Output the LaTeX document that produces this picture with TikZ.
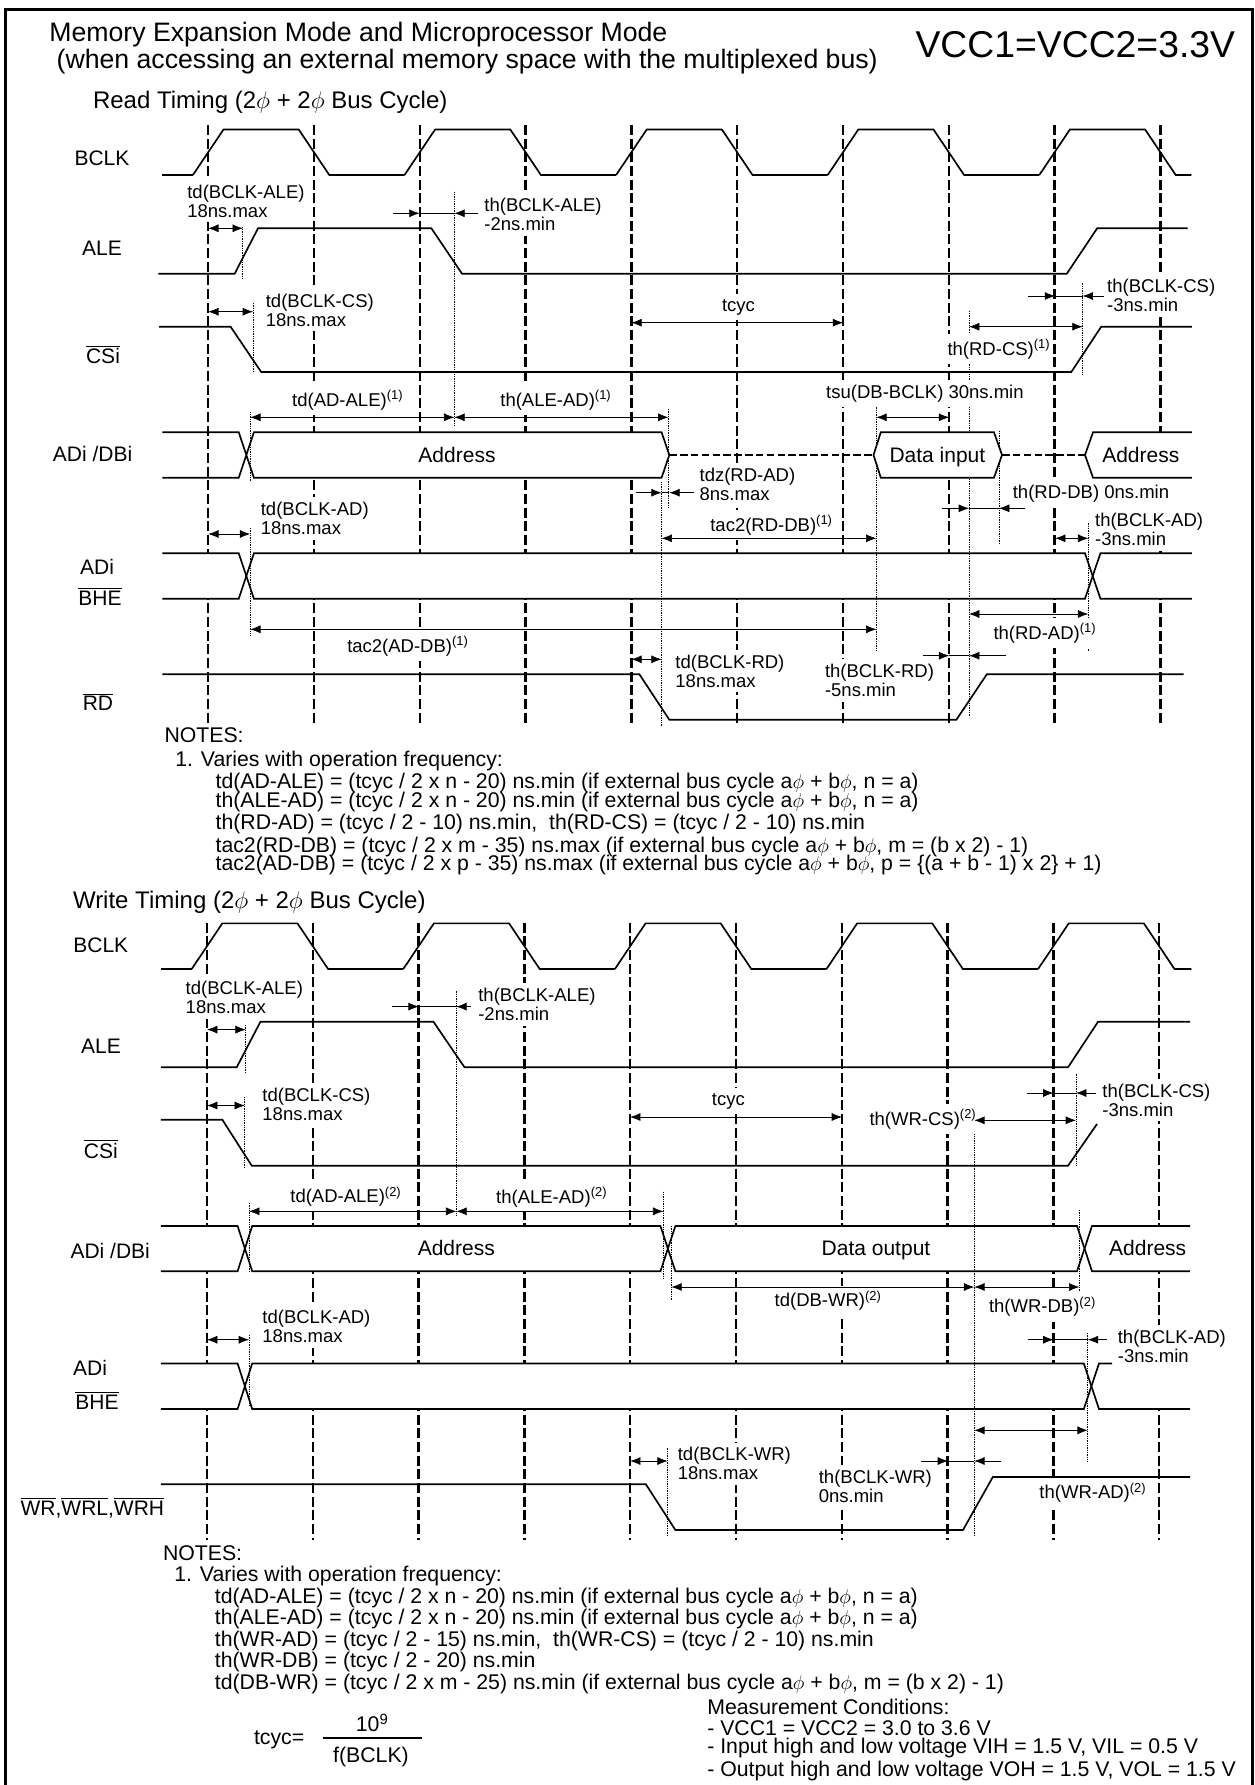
\documentclass[tikz,border=0pt]{standalone}
\usepackage{fontspec}
\setmainfont{Liberation Sans}
\usetikzlibrary{arrows.meta}
\newcommand{\ovl}[1]{$\overline{\mbox{#1}}$}
\newcommand{\ph}{$\phi$}
% tip pair pointing inwards at one level
\newcommand{\inpair}[5]{
	\draw[dimin] (#2,#1) -- (#3,#1);
	\draw[dimin] (#5,#1) -- (#4,#1);
	\draw[dimline] (#3,#1) -- (#4,#1);
}
% clock trace: first grid x, high, low
\newcommand{\clktrace}[3]{
	\draw[wave] ({#1-45.8},#3) -- ({#1-15.3},#3);
	\foreach \k in {0,2,4,6,8}
		\draw[wave] ({#1+105.8*\k-15.3},#3) -- ({#1+105.8*\k+15.3},#2) -- ({#1+105.8*(\k+1)-15.3},#2) -- ({#1+105.8*(\k+1)+15.3},#3) -- ({min(#1+105.8*(\k+2)-15.3,1191.3)},#3);
}
\tikzset{
	dashgrid/.style={line width=1.5pt,dash pattern=on 6pt off 2.2pt},
	wave/.style={line width=1pt},
	busgap/.style={line width=1.3pt,dash pattern=on 4.5pt off 2pt},
	guide/.style={line width=.5pt,dash pattern=on .8pt off .6pt},
	dimline/.style={line width=.4pt},
	dimin/.style={dimline,-{Latex[length=6.2pt,width=4.8pt]}},
	dimboth/.style={dimline,{Latex[length=6.2pt,width=4.8pt]}-{Latex[length=6.2pt,width=4.8pt]}},
	lab/.style={fill=white,inner xsep=1.5pt,inner ysep=3pt,align=left,font=\fontsize{11.1}{11.4}\selectfont},
	labw/.style={lab,anchor=west},
	signame/.style={inner sep=0pt,font=\fontsize{12.6}{14}\selectfont},
	boxtext/.style={inner sep=0pt,text height=9pt,text depth=0pt,font=\fontsize{12.6}{14}\selectfont},
	note/.style={inner sep=0pt,anchor=west,font=\fontsize{12.75}{14}\selectfont},
}
\begin{document}
\begin{tikzpicture}[x=.6pt,y=-.6pt]
	\useasboundingbox (0,0) rectangle (1254,1785);
	\draw[line width=1.6pt] (5.3,1785) -- (5.3,9.3) -- (1252.5,9.3) -- (1252.5,1785);

	\node[inner sep=0pt,anchor=west,font=\fontsize{16}{18}\selectfont] (title1) at (49,35) {Memory Expansion Mode and Microprocessor Mode};
	\node[inner sep=0pt,anchor=west,font=\fontsize{16}{18}\selectfont] (title2) at (56.3,62) {(when accessing an external memory space with the multiplexed bus)};
	\node[inner sep=0pt,anchor=west,font=\fontsize{22.4}{24}\selectfont] (vcc) at (915.2,45) {VCC1=VCC2=3.3V};
	\node[inner sep=0pt,anchor=west,font=\fontsize{14.4}{16}\selectfont] (readtitle) at (92.7,102) {Read Timing (2\ph{} + 2\ph{} Bus Cycle)};

	% read timing
	\foreach \k in {0,...,9}
		\draw[dashgrid] ({208.2+105.8*\k},125) -- ({208.2+105.8*\k},723);
	\fill[white] (162.4,553.3) -- (1192,553.3) -- (1192,598.7) -- (162.4,598.7) -- cycle;
	\fill[white] (246.3,455) -- (253.9,432.3) -- (661.6,432.3) -- (669.3,455) -- (661.6,477.7) -- (253.9,477.7) -- cycle;

	\draw[guide] (242.9,226.7) -- (242.9,278.3);
	\draw[guide] (454.3,191.7) -- (454.3,426.7);
	\draw[guide] (253,303) -- (253,373);
	\draw[guide] (250.2,411.7) -- (250.2,481.7);
	\draw[guide] (250.2,528) -- (250.2,636);
	\draw[guide] (668.5,409) -- (668.5,508.3);
	\draw[guide] (1082.6,283.3) -- (1082.6,375);
	\draw[guide] (969,310.7) -- (969,716.7);
	\draw[guide] (876.4,407.3) -- (876.4,650);
	\draw[guide] (999,430.7) -- (999,543.3);
	\draw[guide] (661.6,481.7) -- (661.6,726.7);
	\draw[guide] (1088.3,523.3) -- (1088.3,650.7);

	\fill[white] (873.5,455) -- (880.8,432.3) -- (994,432.3) -- (1002,455) -- (994,477.7) -- (880.8,477.7) -- cycle;
	\fill[white] (1085,455) -- (1093,432.3) -- (1192,432.3) -- (1192,477.7) -- (1093,477.7) -- cycle;

	\clktrace{208.2}{129.5}{175}
	\draw[wave] (158.4,273.7) -- (234.7,273.7) -- (258,228.3) -- (431.4,228.3) -- (462,273.7) -- (1066.8,273.7) -- (1097.2,228.3) -- (1187.7,228.3);
	\draw[wave] (159.2,326.7) -- (230.6,326.7) -- (261.2,372) -- (1071.3,372) -- (1101.2,326.7) -- (1191.8,326.7);
	\draw[wave] (162.4,432.3) -- (238.8,432.3) -- (253.9,477.7) -- (661.6,477.7) -- (669.3,455) -- (661.6,432.3) -- (253.9,432.3) -- (238.8,477.7) -- (162.4,477.7);
	\draw[busgap] (669.3,455) -- (873.5,455);
	\draw[wave] (873.5,455) -- (880.8,432.3) -- (994,432.3) -- (1002,455) -- (994,477.7) -- (880.8,477.7) -- cycle;
	\draw[busgap] (1002,455) -- (1085,455);
	\draw[wave] (1191.8,432.3) -- (1093,432.3) -- (1085,455) -- (1093,477.7) -- (1191.8,477.7);
	\draw[wave] (162.4,553.3) -- (238.8,553.3) -- (253.9,598.7) -- (1085,598.7) -- (1100.4,553.3) -- (1191.8,553.3);
	\draw[wave] (162.4,598.7) -- (238.8,598.7) -- (253.9,553.3) -- (1085,553.3) -- (1100.4,598.7) -- (1191.8,598.7);
	\draw[wave] (162.4,674.3) -- (639.4,674.3) -- (669.3,719.7) -- (956.4,719.7) -- (986.8,674.3) -- (1183.7,674.3);

	\node[signame] (rbclk) at (102,158) {BCLK};
	\node[signame] (rale) at (102,248.7) {ALE};
	\node[signame] (rcs) at (103,354.3) {\ovl{CSi}};
	\node[signame] (radb) at (92.6,454) {ADi /DBi};
	\node[signame] (radi) at (97,566.7) {ADi};
	\node[signame] (rbhe) at (100,596.7) {\ovl{BHE}};
	\node[signame] (rrd) at (98,702) {\ovl{RD}};
	\node[boxtext] (raddr) at (457,455) {Address};
	\node[boxtext] (rdata) at (937.4,455) {Data input};
	\node[boxtext] (raddr2) at (1140.8,455) {Address};

	\node[labw] (tdale) at (184.5,201) {td(BCLK-ALE)\\18ns.max};
	\node[labw] (thale) at (481.6,214.3) {th(BCLK-ALE)\\-2ns.min};
	\node[labw] (tdcs) at (263,310) {td(BCLK-CS)\\18ns.max};
	\node[lab] (tdadale) at (347.8,400) {td(AD-ALE)\textsuperscript{(1)}};
	\node[lab] (thalead) at (556,400) {th(ALE-AD)\textsuperscript{(1)}};
	\node[lab] (tcyc) at (738.5,307.3) {tcyc};
	\node[labw] (thcs) at (1104.4,295.5) {th(BCLK-CS)\\-3ns.min};
	\node[labw] (thrdcs) at (944.7,349) {th(RD-CS)\textsuperscript{(1)}};
	\node[labw] (tsu) at (823.4,393.3) {tsu(DB-BCLK) 30ns.min};
	\node[labw] (tdz) at (696.8,484) {tdz(RD-AD)\\8ns.max};
	\node[lab] (tacrd) at (771.6,525) {tac2(RD-DB)\textsuperscript{(1)}};
	\node[labw] (thdb) at (1010,494) {th(RD-DB) 0ns.min};
	\node[labw] (thad) at (1092.3,529.6) {th(BCLK-AD)\\-3ns.min};
	\node[lab] (thrdad) at (1045,633.3) {th(RD-AD)\textsuperscript{(1)}};
	\node[lab] (tacad) at (408,646) {tac2(AD-DB)\textsuperscript{(1)}};
	\node[labw] (tdad) at (258,518.6) {td(BCLK-AD)\\18ns.max};
	\node[labw] (tdrd) at (672.6,671) {td(BCLK-RD)\\18ns.max};
	\node[labw] (thrd) at (822.2,680.3) {th(BCLK-RD)\\-5ns.min};

	\draw[dimboth] (208.2,228.3) -- (242.9,228.3);
	\inpair{213.3}{393}{419.6}{454.3}{477.5}
	\draw[dimboth] (208.2,311.7) -- (253,311.7);
	\draw[dimboth] (250.2,417.3) -- (454.3,417.3);
	\draw[dimboth] (454.3,417.3) -- (668.5,417.3);
	\draw[dimboth] (631.3,322.7) -- (843.2,322.7);
	\inpair{296}{1028.4}{1055.1}{1082.6}{1104.4}
	\draw[dimboth] (969,326.7) -- (1082.6,326.7);
	\draw[dimboth] (876.4,417.3) -- (949.2,417.3);
	\inpair{492.7}{636.2}{661.6}{669.3}{694}
	\draw[dimboth] (661.6,538.3) -- (876.4,538.3);
	\inpair{508.3}{942.3}{969}{999}{1025.2}
	\draw[dimboth] (1055.1,538.3) -- (1088.3,538.3);
	\draw[dimboth] (969,614) -- (1088.3,614);
	\draw[dimboth] (250.2,629.3) -- (876.4,629.3);
	\draw[dimboth] (208.2,534) -- (250.2,534);
	\draw[dimboth] (631.3,659.3) -- (661.6,659.3);
	\inpair{655.7}{922.5}{949.2}{969}{1006}

	\node[note] (rn1) at (164.2,735) {NOTES:};
	\node[note] (rn2) at (175,760.7) {1. Varies with operation frequency:};
	\node[note] (rn3) at (215.3,782.7) {td(AD-ALE) = (tcyc / 2 x n - 20) ns.min (if external bus cycle a\ph{} + b\ph, n = a)};
	\node[note] (rn4) at (215.3,802) {th(ALE-AD) = (tcyc / 2 x n - 20) ns.min (if external bus cycle a\ph{} + b\ph, n = a)};
	\node[note] (rn5) at (215.3,824) {th(RD-AD) = (tcyc / 2 - 10) ns.min,\ \ th(RD-CS) = (tcyc / 2 - 10) ns.min};
	\node[note] (rn6) at (215.3,846.7) {tac2(RD-DB) = (tcyc / 2 x m - 35) ns.max (if external bus cycle a\ph{} + b\ph, m = (b x 2) - 1)};
	\node[note] (rn7) at (215.3,865) {tac2(AD-DB) = (tcyc / 2 x p - 35) ns.max (if external bus cycle a\ph{} + b\ph, p = \{(a + b - 1) x 2\} + 1)};

	% write timing
	\node[inner sep=0pt,anchor=west,font=\fontsize{14.4}{16}\selectfont] (writetitle) at (72.7,902.5) {Write Timing (2\ph{} + 2\ph{} Bus Cycle)};
	\foreach \k in {0,...,9}
		\draw[dashgrid] ({207+105.8*\k},922.5) -- ({207+105.8*\k},1540);
	\fill[white] (160.8,1226) rectangle (1190,1271.2);
	\fill[white] (160.8,1363.4) rectangle (1190,1409);

	\draw[guide] (245.7,1025) -- (245.7,1074);
	\draw[guide] (456.3,991.4) -- (456.3,1216);
	\draw[guide] (244.9,1096.8) -- (244.9,1168.4);
	\draw[guide] (249,1203) -- (249,1272.4);
	\draw[guide] (249,1335) -- (249,1407);
	\draw[guide] (663.3,1191.7) -- (663.3,1279.3);
	\draw[guide] (671.4,1226) -- (671.4,1300);
	\draw[guide] (1079.4,1210) -- (1079.4,1300);
	\draw[guide] (974.2,1107.7) -- (974.2,1535);
	\draw[guide] (1076,1074.3) -- (1076,1166);
	\draw[guide] (1087.8,1333) -- (1087.8,1461.7);
	\draw[guide] (667.7,1448.3) -- (667.7,1536);

	\clktrace{207}{923.4}{969}
	\draw[wave] (160.8,1067.3) -- (236.7,1067.3) -- (260.4,1021.8) -- (433.5,1021.8) -- (464.5,1067.3) -- (1068,1067.3) -- (1098,1021.8) -- (1190,1021.8);
	\draw[wave] (160.8,1119.8) -- (222.4,1119.8) -- (251.8,1165.8) -- (1068,1165.8) -- (1097,1124);
	\draw[wave] (160.8,1226) -- (237.6,1226) -- (252.2,1271.2) -- (660.4,1271.2) -- (675.4,1226) -- (1077,1226) -- (1092,1271.2) -- (1190,1271.2);
	\draw[wave] (160.8,1271.2) -- (237.6,1271.2) -- (252.2,1226) -- (660.4,1226) -- (675.4,1271.2) -- (1077,1271.2) -- (1092,1226) -- (1190,1226);
	\draw[wave] (160.8,1363.4) -- (237.6,1363.4) -- (252.2,1409) -- (1083.8,1409) -- (1099,1363.4) -- (1112,1363.4);
	\draw[wave] (160.8,1409) -- (237.6,1409) -- (252.2,1363.4) -- (1083.8,1363.4) -- (1099,1409) -- (1190,1409);
	\draw[wave] (160.8,1484.3) -- (645.9,1484.3) -- (675.4,1530) -- (963,1530) -- (992.8,1477) -- (1190,1477);

	\node[signame] (wbclk) at (100.8,945) {BCLK};
	\node[signame] (wale) at (101,1046.5) {ALE};
	\node[signame] (wcs) at (100.8,1148.9) {\ovl{CSi}};
	\node[signame] (wadb) at (110.2,1251) {ADi /DBi};
	\node[signame] (wadi) at (90,1367.9) {ADi};
	\node[signame] (wbhe) at (97,1400.4) {\ovl{BHE}};
	\node[signame] (wwr) at (92.4,1508) {\ovl{WR},\ovl{WRL},\ovl{WRH}};
	\node[boxtext] (waddr) at (456.3,1247.7) {Address};
	\node[boxtext] (wdata) at (876,1247.7) {Data output};
	\node[boxtext] (waddr2) at (1147.7,1248) {Address};

	\node[labw] (wtdale) at (182.9,997.3) {td(BCLK-ALE)\\18ns.max};
	\node[labw] (wthale) at (475.5,1004.7) {th(BCLK-ALE)\\-2ns.min};
	\node[labw] (wtdcs) at (259.6,1104.5) {td(BCLK-CS)\\18ns.max};
	\node[lab] (wtdadale) at (346,1196.6) {td(AD-ALE)\textsuperscript{(2)}};
	\node[lab] (wthalead) at (551.8,1197.4) {th(ALE-AD)\textsuperscript{(2)}};
	\node[lab] (wtcyc) at (728.4,1101) {tcyc};
	\node[labw] (wthcs) at (1099.6,1100) {th(BCLK-CS)\\-3ns.min};
	\node[labw] (wthwrcs) at (866.7,1119.3) {th(WR-CS)\textsuperscript{(2)}};
	\node[lab] (wtddb) at (828.2,1300.7) {td(DB-WR)\textsuperscript{(2)}};
	\node[lab] (wthdb) at (1042.6,1306.7) {th(WR-DB)\textsuperscript{(2)}};
	\node[labw] (wtdad) at (259.6,1326.7) {td(BCLK-AD)\\18ns.max};
	\node[labw] (wthad) at (1115,1346.3) {th(BCLK-AD)\\-3ns.min};
	\node[lab] (wthwrad) at (1093,1492.7) {th(WR-AD)\textsuperscript{(2)}};
	\node[labw] (wtdwr) at (675,1463.8) {td(BCLK-WR)\\18ns.max};
	\node[labw] (wthwr) at (816,1486.2) {th(BCLK-WR)\\0ns.min};

	\draw[dimboth] (207,1029.6) -- (245.7,1029.6);
	\inpair{1006.6}{391.8}{418.8}{456.3}{471.4}
	\draw[dimboth] (207,1105.5) -- (244.9,1105.5);
	\draw[dimboth] (249,1211.3) -- (456.3,1211.3);
	\draw[dimboth] (456.3,1211.3) -- (663.3,1211.3);
	\draw[dimboth] (671.4,1287) -- (974.2,1287);
	\draw[dimboth] (974.2,1287) -- (1079.4,1287);
	\draw[dimboth] (974.2,1120.3) -- (1076,1120.3);
	\draw[dimboth] (630.1,1117) -- (842,1117);
	\inpair{1093}{1027.2}{1053.5}{1076}{1096}
	\draw[dimboth] (207,1339.7) -- (249,1339.7);
	\inpair{1339.7}{1027.6}{1053.5}{1087.8}{1106.9}
	\draw[dimboth] (974.2,1430.3) -- (1087.8,1430.3);
	\draw[dimboth] (630.1,1461) -- (667.7,1461);
	\inpair{1461}{921.3}{948}{974.2}{1001}

	\node[note] (wn1) at (162.7,1553.3) {NOTES:};
	\node[note] (wn2) at (174,1576) {1. Varies with operation frequency:};
	\node[note] (wn3) at (214.6,1598.3) {td(AD-ALE) = (tcyc / 2 x n - 20) ns.min (if external bus cycle a\ph{} + b\ph, n = a)};
	\node[note] (wn4) at (214.6,1619.3) {th(ALE-AD) = (tcyc / 2 x n - 20) ns.min (if external bus cycle a\ph{} + b\ph, n = a)};
	\node[note] (wn5) at (214.6,1641) {th(WR-AD) = (tcyc / 2 - 15) ns.min,\ \ th(WR-CS) = (tcyc / 2 - 10) ns.min};
	\node[note] (wn6) at (214.6,1662.3) {th(WR-DB) = (tcyc / 2 - 20) ns.min};
	\node[note] (wn7) at (214.6,1684) {td(DB-WR) = (tcyc / 2 x m - 25) ns.min (if external bus cycle a\ph{} + b\ph, m = (b x 2) - 1)};
	\node[note] (cond1) at (707,1706.7) {Measurement Conditions:};
	\node[note] (cond2) at (707,1728.3) {- VCC1 = VCC2 = 3.0 to 3.6 V};
	\node[note] (cond3) at (707,1748.3) {- Input high and low voltage VIH = 1.5 V, VIL = 0.5 V};
	\node[note] (cond4) at (707,1770.7) {- Output high and low voltage VOH = 1.5 V, VOL = 1.5 V};

	\node[note] (tcyceq) at (253.7,1740) {tcyc=};
	\node[inner sep=0pt,font=\fontsize{12.75}{14}\selectfont] (tcycnum) at (372.3,1722.7) {10\textsuperscript{9}};
	\node[inner sep=0pt,font=\fontsize{12.75}{14}\selectfont] (tcycden) at (371,1756.7) {f(BCLK)};
	\draw[line width=.9pt] (322.6,1738) -- (422,1738);
\end{tikzpicture}
\end{document}
